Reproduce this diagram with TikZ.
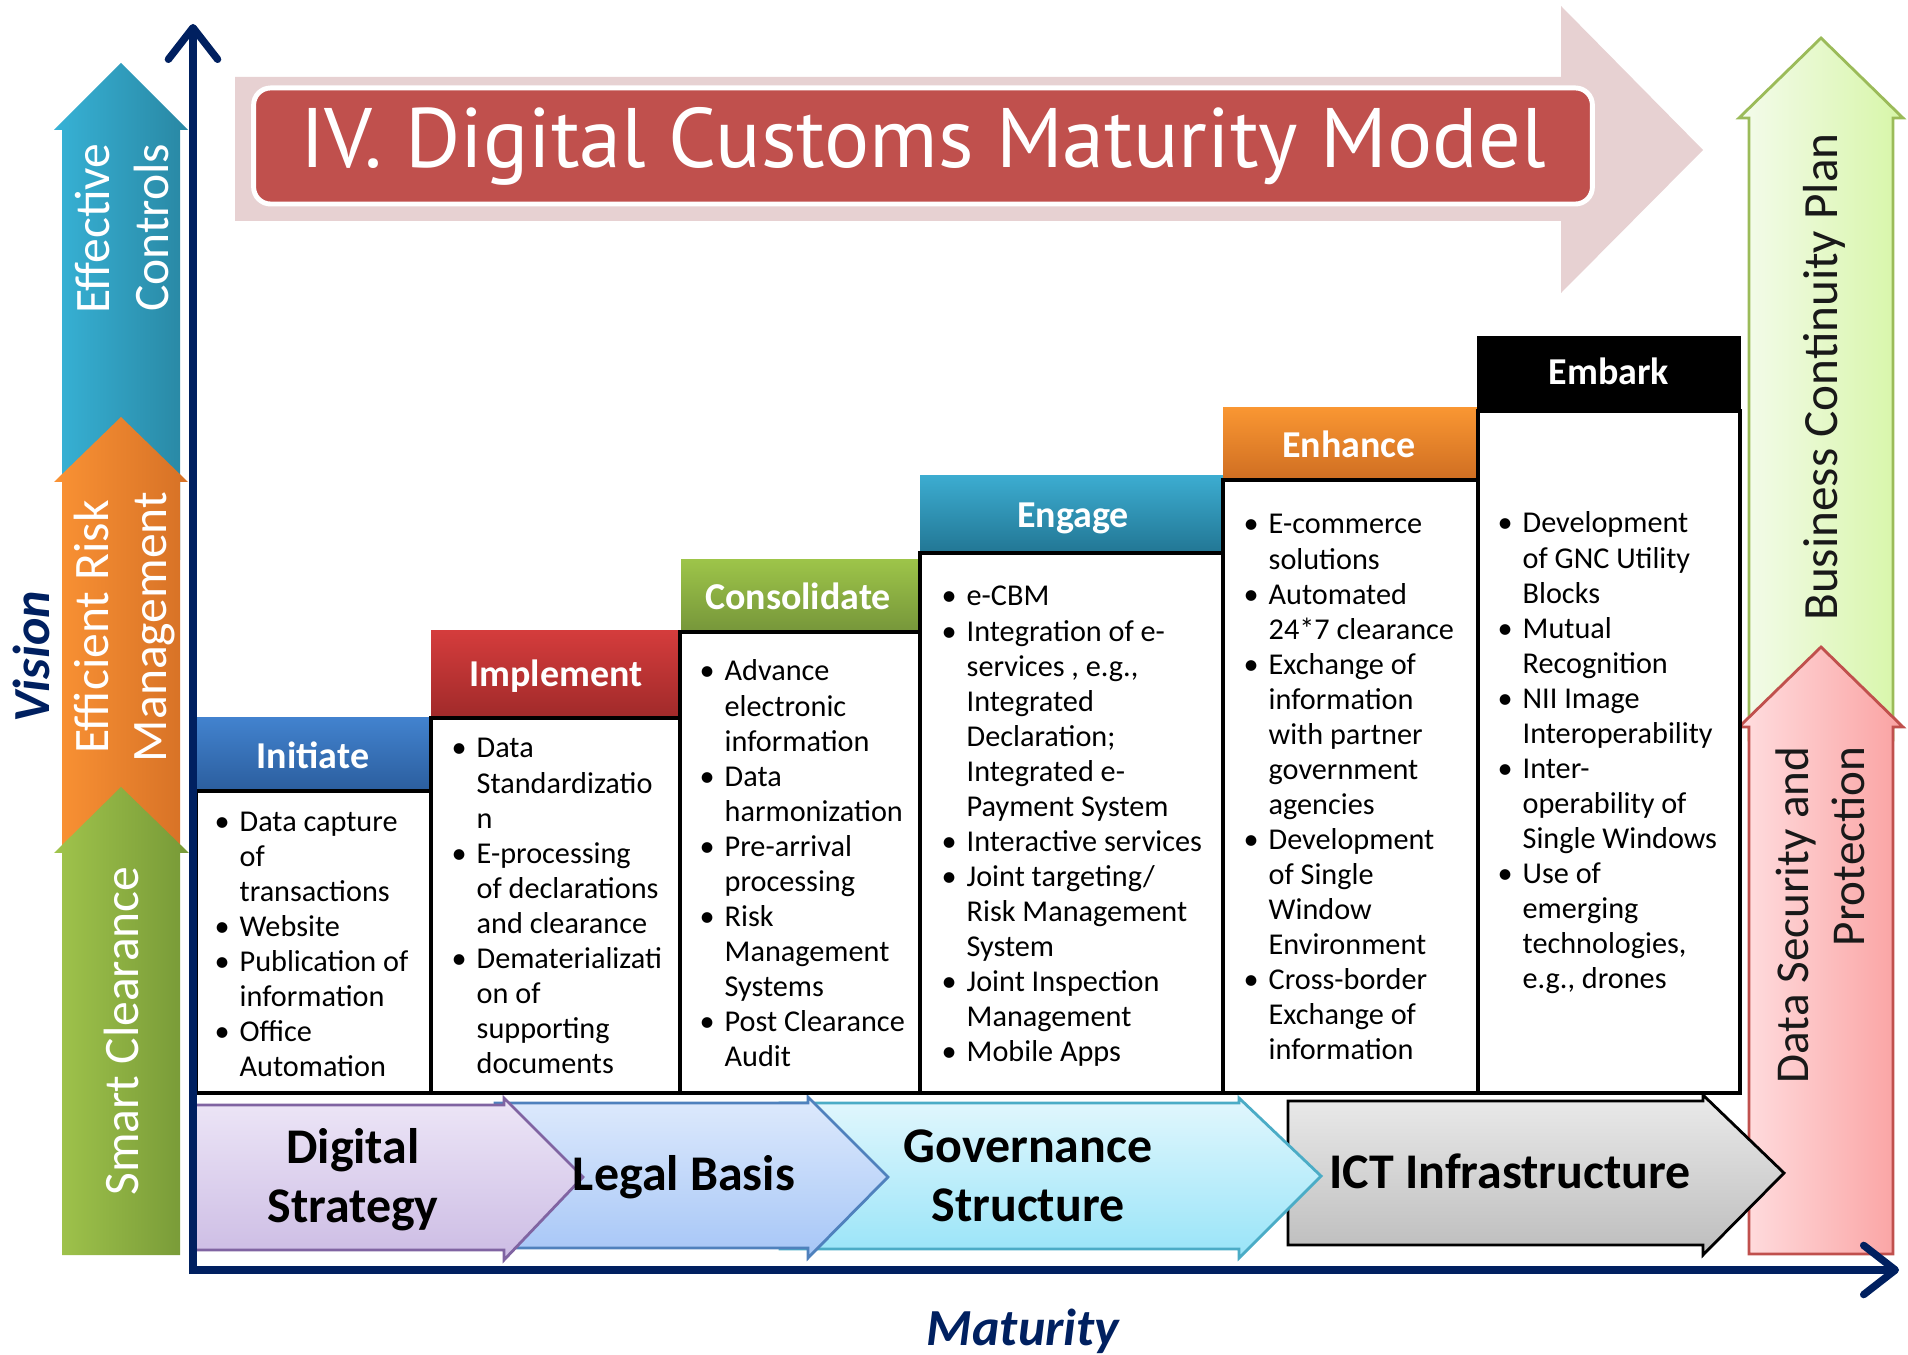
\documentclass[tikz,border=0pt]{standalone}
\usepackage{fontspec}
\setmainfont{Carlito}
\newfontfamily\titlefont{PT Sans}
\usetikzlibrary{arrows.meta}

\definecolor{navy}{RGB}{0,32,96}
\definecolor{titlepink}{RGB}{231,209,210}
\definecolor{titlered}{RGB}{192,80,77}
\definecolor{ecL}{RGB}{55,178,214}
\definecolor{ecR}{RGB}{41,135,163}
\definecolor{erL}{RGB}{250,146,52}
\definecolor{erR}{RGB}{214,113,38}
\definecolor{scL}{RGB}{160,196,76}
\definecolor{scR}{RGB}{119,153,55}
\definecolor{bcpL}{RGB}{244,251,236}
\definecolor{bcpR}{RGB}{215,246,168}
\definecolor{bcpline}{RGB}{155,187,89}
\definecolor{dspL}{RGB}{255,222,224}
\definecolor{dspR}{RGB}{250,162,162}
\definecolor{dspline}{RGB}{192,80,77}
\definecolor{dsT}{RGB}{237,230,247}
\definecolor{dsB}{RGB}{204,188,228}
\definecolor{dsline}{RGB}{128,100,162}
\definecolor{lbT}{RGB}{222,234,252}
\definecolor{lbB}{RGB}{166,198,247}
\definecolor{lbline}{RGB}{79,129,189}
\definecolor{gsT}{RGB}{226,247,253}
\definecolor{gsB}{RGB}{152,228,248}
\definecolor{gsline}{RGB}{75,172,198}
\definecolor{ictT}{RGB}{234,234,234}
\definecolor{ictB}{RGB}{189,189,189}
\definecolor{iniT}{RGB}{66,130,206}
\definecolor{iniB}{RGB}{43,94,158}
\definecolor{impT}{RGB}{212,60,60}
\definecolor{impB}{RGB}{160,42,42}
\definecolor{conT}{RGB}{157,196,73}
\definecolor{conB}{RGB}{118,150,58}
\definecolor{engT}{RGB}{60,172,208}
\definecolor{engB}{RGB}{34,118,148}
\definecolor{enhT}{RGB}{249,150,50}
\definecolor{enhB}{RGB}{207,110,34}
\definecolor{labelgrey}{RGB}{25,25,25}

\newcommand{\rows}[2]{\begin{tabular}[t]{@{}#1@{}}#2\end{tabular}}
\newcommand{\bitem}{\makebox[7.1pt][l]{\textbullet}}
\newcommand{\bcont}{\hspace*{7.1pt}}

\tikzset{
  banner/.style={draw=white, line width=1.4pt, fill=titlered, rounded corners=0.17cm,
    minimum width=13.38cm, minimum height=1.16cm, inner sep=0, text=white,
    font=\titlefont\fontsize{24}{28}\selectfont},
  hdr/.style={anchor=base, inner sep=0, text=white, font=\fontsize{10.8}{13}\selectfont\bfseries},
  colbox/.style={draw=black, line width=1.2pt, fill=white},
  bul/.style={anchor=base west, inner sep=0, font=\fontsize{8.6}{9.96}\selectfont},
  sidelbl/.style={rotate=90, inner sep=0, font=\fontsize{14.1}{16.6}\selectfont},
  chevlbl/.style={anchor=base, inner sep=0, font=\fontsize{14.2}{16.8}\selectfont\bfseries},
  axislbl/.style={anchor=base, inner sep=0, text=navy, font=\fontsize{14.8}{17}\selectfont\bfseries\itshape},
  axis/.style={draw=navy, line width=2.1pt, -{Straight Barb[length=9pt,width=14pt,round]}}
}

\begin{document}
\begin{tikzpicture}[x=0.01cm, y=-0.01cm]
\useasboundingbox (0,0) rectangle (1908,1355);

% title banner
\fill[titlepink] (235,77) -- (1561,77) -- (1561,6) -- (1703,150) -- (1561,293) -- (1561,221) -- (235,221) -- cycle;
\node[banner] (title) at (923,146) {IV. Digital Customs Maturity Model};

% vision arrows on the left
\shade[left color=ecL, right color=ecR] (62,560) -- (62,130) -- (54,130) -- (121,63) -- (188,130) -- (180,130) -- (180,560) -- cycle;
\shade[left color=erL, right color=erR] (62,850) -- (62,482) -- (54,482) -- (121,417) -- (188,482) -- (180,482) -- (180,850) -- cycle;
\shade[left color=scL, right color=scR] (62,1255) -- (62,853) -- (54,853) -- (121,787) -- (189,853) -- (180,853) -- (180,1255) -- cycle;
\node[sidelbl, text=white, anchor=base east] (effective) at (110,143) {\rows{r}{Effective\\Controls}};
\node[sidelbl, text=white, anchor=base] (efficient) at (108,627) {\rows{c}{Efficient Risk\\Management}};
\node[sidelbl, text=white, anchor=base] (smart) at (138,1031) {Smart Clearance};

% arrows on the right
\shadedraw[left color=bcpL, right color=bcpR, draw=bcpline, line width=0.8pt] (1749,740) -- (1749,118) -- (1739,118) -- (1821,38) -- (1903,118) -- (1893,118) -- (1893,740) -- cycle;
\shadedraw[left color=dspL, right color=dspR, draw=dspline, line width=0.8pt] (1749,1254) -- (1749,727) -- (1739,727) -- (1821,647) -- (1903,727) -- (1893,727) -- (1893,1254) -- cycle;
\node[sidelbl, text=labelgrey, anchor=base, font=\fontsize{14}{16.6}\selectfont] (bcp) at (1837,377) {Business Continuity Plan};
\node[sidelbl, text=labelgrey, anchor=base east, font=\fontsize{13.4}{16.2}\selectfont] (dsp) at (1808,746) {\rows{r}{Data Security and\\Protection}};

% foundation chevrons
\shadedraw[top color=ictT, bottom color=ictB, draw=black, line width=0.8pt] (1288,1101) -- (1703,1101) -- (1703,1095) -- (1784,1173) -- (1703,1255) -- (1703,1245) -- (1288,1245) -- cycle;
\shadedraw[top color=gsT, bottom color=gsB, draw=gsline, line width=0.8pt] (780,1103) -- (1239,1103) -- (1239,1098) -- (1321,1176) -- (1239,1258) -- (1239,1249) -- (780,1249) -- cycle;
\shadedraw[top color=lbT, bottom color=lbB, draw=lbline, line width=0.8pt] (495,1103) -- (808,1103) -- (808,1097) -- (888,1177) -- (808,1258) -- (808,1248) -- (495,1248) -- cycle;
\shadedraw[top color=dsT, bottom color=dsB, draw=dsline, line width=0.8pt] (195,1105) -- (504,1105) -- (504,1098) -- (583,1177) -- (504,1260) -- (504,1250) -- (195,1250) -- cycle;
\node[chevlbl] (ict) at (1510,1188) {ICT Infrastructure};
\node[chevlbl] (gov) at (1028,1162) {\rows{c}{Governance\\Structure}};
\node[chevlbl] (legal) at (684,1190) {Legal Basis};
\node[chevlbl] (digital) at (353,1163) {\rows{c}{Digital\\Strategy}};

% maturity stages
\shade[top color=iniT, bottom color=iniB] (197,718) rectangle (429,791);
\shade[top color=impT, bottom color=impB] (431,631) rectangle (680,718);
\shade[top color=conT, bottom color=conB] (681,560) rectangle (918,632);
\shade[top color=engT, bottom color=engB] (920,476) rectangle (1223,553);
\shade[top color=enhT, bottom color=enhB] (1223,408) rectangle (1477,480);
\fill[black] (1477,336) rectangle (1741,411);

\draw[colbox] (196,791) rectangle (431,1093);
\draw[colbox] (431,718) rectangle (680,1093);
\draw[colbox] (680,632) rectangle (920,1093);
\draw[colbox] (920,553) rectangle (1223,1093);
\draw[colbox] (1223,480) rectangle (1478,1093);
\draw[colbox] (1478,411) rectangle (1740,1093);

\node[hdr] (initiate) at (313,768) {Initiate};
\node[hdr] (implement) at (556,687) {Implement};
\node[hdr] (consolidate) at (798,610) {Consolidate};
\node[hdr] (engage) at (1073,528) {Engage};
\node[hdr] (enhance) at (1349,458) {Enhance};
\node[hdr] (embark) at (1609,385) {Embark};

\node[bul] (initiate-list) at (214,831) {\rows{l}{\bitem Data capture\\ \bcont of\\ \bcont transactions\\ \bitem Website\\ \bitem Publication of\\ \bcont information\\ \bitem Office\\ \bcont Automation}};
\node[bul] (implement-list) at (451,758) {\rows{l}{\bitem Data\\ \bcont Standardizatio\\ \bcont n\\ \bitem E-processing\\ \bcont of declarations\\ \bcont and clearance\\ \bitem Dematerializati\\ \bcont on of\\ \bcont supporting\\ \bcont documents}};
\node[bul] (consolidate-list) at (699,681) {\rows{l}{\bitem Advance\\ \bcont electronic\\ \bcont information\\ \bitem Data\\ \bcont harmonization\\ \bitem Pre-arrival\\ \bcont processing\\ \bitem Risk\\ \bcont Management\\ \bcont Systems\\ \bitem Post Clearance\\ \bcont Audit}};
\node[bul] (engage-list) at (941,606) {\rows{l}{\bitem e-CBM\\ \bitem Integration of e-\\ \bcont services , e.g.,\\ \bcont Integrated\\ \bcont Declaration;\\ \bcont Integrated e-\\ \bcont Payment System\\ \bitem Interactive services\\ \bitem Joint targeting/\\ \bcont Risk Management\\ \bcont System\\ \bitem Joint Inspection\\ \bcont Management\\ \bitem Mobile Apps}};
\node[bul] (enhance-list) at (1243,534) {\rows{l}{\bitem E-commerce\\ \bcont solutions\\ \bitem Automated\\ \bcont 24*7 clearance\\ \bitem Exchange of\\ \bcont information\\ \bcont with partner\\ \bcont government\\ \bcont agencies\\ \bitem Development\\ \bcont of Single\\ \bcont Window\\ \bcont Environment\\ \bitem Cross-border\\ \bcont Exchange of\\ \bcont information}};
\node[bul] (embark-list) at (1497,533) {\rows{l}{\bitem Development\\ \bcont of GNC Utility\\ \bcont Blocks\\ \bitem Mutual\\ \bcont Recognition\\ \bitem NII Image\\ \bcont Interoperability\\ \bitem Inter-\\ \bcont operability of\\ \bcont Single Windows\\ \bitem Use of\\ \bcont emerging\\ \bcont technologies,\\ \bcont e.g., drones}};

% axes
\coordinate (origin) at (193,1270);
\coordinate (vtop) at (193,24);
\coordinate (hend) at (1899,1270);
\draw[axis] (193,1274) -- (vtop);
\draw[axis] (origin) -- (hend);
\node[axislbl, rotate=90] (vision) at (49,657) {Vision};
\node[axislbl] (maturity) at (1023,1345) {Maturity};

\end{tikzpicture}
\end{document}
